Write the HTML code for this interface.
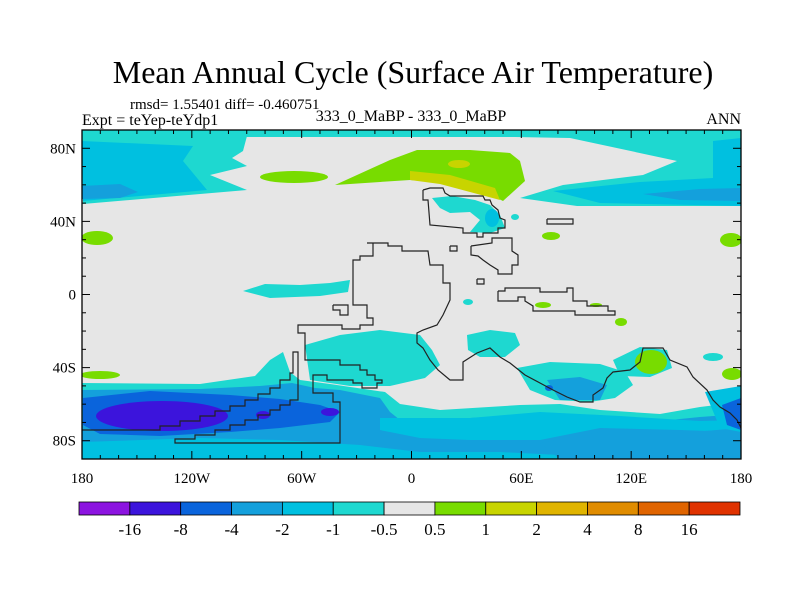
<!DOCTYPE html>
<html><head><meta charset="utf-8"><style>
html,body{margin:0;padding:0;background:#fff;}
svg{display:block;font-family:"Liberation Serif",serif;}
</style></head><body>
<svg id="svg" width="800" height="600" viewBox="0 0 800 600" xmlns="http://www.w3.org/2000/svg">
<text x="413" y="83" font-size="32" text-anchor="middle">Mean Annual Cycle (Surface Air Temperature)</text>
<text x="130" y="109" font-size="15">rmsd= 1.55401 diff= -0.460751</text>
<text x="82" y="125" font-size="16">Expt = teYep-teYdp1</text>
<text x="411" y="121" font-size="16" text-anchor="middle">333_0_MaBP - 333_0_MaBP</text>
<text x="741" y="124" font-size="16" text-anchor="end">ANN</text>
<defs><clipPath id="mapclip"><rect x="82" y="130" width="659" height="329"/></clipPath></defs>
<g id="map" clip-path="url(#mapclip)"></g>
<g id="coast" clip-path="url(#mapclip)"></g>
<g id="axes"></g>
<g id="cbar"></g>
</svg>
<script>
const levelLabels=["-16","-8","-4","-2","-1","-0.5","0.5","1","2","4","8","16"];
const levelColors=["#8c14e0","#3c14dc","#0a64dc","#14a0dc","#00c0e0","#1ed8d0","#e6e6e6","#78dc00","#c8d400","#e0b400","#e08c00","#e06400","#e03200"];
const latTicks=[80,40,0,-40,-80];
const latLabels=["80N","40N","0","40S","80S"];
const lonTicks=[-180,-120,-60,0,60,120,180];
const lonLabels=["180","120W","60W","0","60E","120E","180"];
const C={c6:"#8c14e0",c5:"#3c14dc",c4:"#0a64dc",c3:"#14a0dc",c2:"#00c0e0",c1:"#1ed8d0",g:"#e6e6e6",p1:"#78dc00",p2:"#c8d400"};
const NS="http://www.w3.org/2000/svg";
const X=lon=>82+(lon+180)*659/360, Y=lat=>130+(90-lat)*329/180;
function mk(parent,tag,attrs){const e=document.createElementNS(NS,tag);for(const k in attrs)e.setAttribute(k,attrs[k]);parent.appendChild(e);return e;}
const map=document.getElementById('map');
mk(map,'rect',{x:82,y:130,width:659,height:329,fill:'#e6e6e6'});
const regions=[
 ["c1","poly","82,130 741,130 741,137 82,137"],
 ["c1","poly","82,130 247,136 243,151 232,158 247,166 210,175 247,190 83,204"],
 ["c2","poly","82,141 193,146 183,161 207,190 83,201"],
 ["c3","poly","82,186 120,184 138,192 120,198 82,199"],
 ["c1","poly","410,130 741,130 741,206 577,206 520,198 563,185 643,175 677,161 570,138 410,135"],
 ["c2","poly","553,191 640,182 713,178 713,141 741,138 741,206 600,203"],
 ["c3","poly","643,194 700,189 741,188 741,201 680,200"],
 ["p1","ell","294,177,34,6"],
 ["p1","poly","335,185 390,160 417,150 470,150 510,153 520,161 525,181 503,201 493,196 470,185 410,180"],
 ["p2","poly","410,171 450,175 495,188 500,200 485,196 440,184 410,180"],
 ["p2","ell","459,164,11,4"],
 ["c1","poly","432,198 452,196 475,200 490,205 500,215 505,228 490,233 470,232 480,220 470,212 450,213 440,208"],
 ["c2","ell","492,218,7,9"],
 ["c1","ell","515,217,4,3"],
 ["p1","ell","97,238,16,7"],["p1","ell","731,240,11,7"],["p1","ell","551,236,9,4"],["p1","ell","621,322,6,4"],
 ["c1","poly","243,291 265,284 300,285 330,283 350,280 348,292 320,296 270,298"],
 // southern ocean band
 ["c1","poly","82,383 200,384 255,376 270,360 283,352 290,372 300,380 330,384 385,392 400,404 440,410 520,405 560,404 600,410 660,414 700,407 741,402 741,459 82,459"],
 ["c1","poly","305,345 340,335 380,330 420,335 432,350 440,365 425,378 390,386 350,386 310,380"],
 ["c1","poly","467,335 490,330 515,333 520,345 505,357 480,357 468,350"],
 ["c1","poly","517,368 550,362 600,364 625,372 633,385 615,398 590,402 555,400 530,390"],
 ["c1","poly","613,360 640,347 667,350 672,368 650,377 620,376"],
 ["c3","poly","82,390 200,389 260,386 292,383 315,388 340,390 380,398 390,412 400,420 470,418 540,414 600,415 650,422 700,417 741,414 741,459 82,459"],
 ["c2","poly","380,418 470,418 540,412 620,416 700,421 741,420 741,432 680,430 600,428 540,440 470,440 420,438 380,430"],
 ["c2","poly","82,442 200,438 280,440 360,445 420,452 500,452 560,455 600,452 700,450 741,446 741,459 82,459"],
 ["c3","poly","540,443 600,432 680,433 741,428 741,459 560,459"],
 ["c3","poly","547,380 580,377 607,385 600,400 560,400"],
 ["c4","ell","549,388,4,3"],
 ["c4","poly","83,398 150,391 230,395 280,399 320,405 340,412 330,422 280,428 230,432 160,436 100,434 83,425"],
 ["c5","ell","162,416,66,15"],["c5","ell","263,415,7,4"],["c5","ell","330,412,9,4"],
 ["c2","poly","705,392 741,386 741,432 720,428"],
 ["c4","poly","722,405 741,398 741,430 727,425"],
 ["p1","ell","651,362,16,12"],["p1","ell","732,374,10,6"],["c1","ell","713,357,10,4"],
 ["p1","ell","100,375,20,4"],
 ["c1","ell","468,302,5,3"],["p1","ell","543,305,8,3"],["p1","ell","596,305,6,2"]
];
regions.forEach(r=>{
 let e;
 if(r[1]=="poly") e=mk(map,'polygon',{points:r[2],fill:C[r[0]]});
 else {const a=r[2].split(',').map(Number); e=mk(map,'ellipse',{cx:a[0],cy:a[1],rx:a[2],ry:a[3],fill:C[r[0]]});}
 
 
});
const coast=document.getElementById('coast');
const lines=[
 "423,190 430,188 443,188 445,193 450,196 483,196 485,200 490,200 492,205 498,210 500,218 505,220 505,228 498,228 498,233 483,233 483,237 477,237 477,233 463,233 463,228 430,225 428,200 423,200 423,190",
 "547,219 573,219 573,224 547,224 547,219",
 "450,246 457,246 457,251 450,251 450,246",
 "477,279 484,279 484,284 477,284 477,279",
 "471,246 492,243 492,238 512,238 512,251 518,255 518,265 512,265 512,274 498,274 498,270 490,265 483,260 478,256 471,255 471,246",
 "498,291 505,291 505,288 540,288 540,292 567,292 567,288 573,288 573,301 587,301 587,306 608,306 608,311 615,311 615,315 575,315 575,311 540,311 533,311 533,306 525,301 525,297 518,297 518,301 498,301 498,291",
 "367,243 388,243 388,246 402,246 402,251 428,251 430,265 443,265 443,283 450,283 450,300 443,315 437,325 423,330 417,333 417,343 423,348 430,360 438,370 450,380 463,380 463,362 477,353 490,348 500,357 510,363 525,375 540,383 553,390 567,397 580,402 593,402 593,395 603,388 607,378 613,372 630,370 640,362 643,348 663,348 670,360 687,367 693,377 707,390 713,400 720,407 730,413 737,420 741,428",
 "373,243 373,256 360,256 360,260 353,260 353,305 367,305 367,318 373,318 373,325 360,325 360,329 342,329 342,325 298,325 298,333 305,333 305,360 340,360 340,365 360,365 360,370 367,370 367,375 375,375 375,380 382,380 382,383 377,383 377,388 362,388 362,383 353,383 353,380 327,380 327,375 313,375 313,393 333,393 333,402 340,402 340,443 175,443 175,439 195,439 195,435 215,435 215,430 230,430 230,425 245,425 245,420 258,420 258,415 270,415 270,410 280,410 280,405 290,405 290,400 298,400 298,352 293,352 293,373 290,373 290,380 280,380 280,388 270,388 270,394 258,394 258,400 245,400 245,406 230,406 230,411 215,411 215,416 200,416 200,421 180,421 180,426 160,426 160,430 82,430",
 "333,305 348,305 348,315 340,315 340,310 333,310 333,305"
];
lines.forEach(p=>{
 const e=mk(coast,'polyline',{points:p,fill:'none',stroke:'#222',"stroke-width":1.2});
 
 
});
const ax=document.getElementById('axes');
let fr=mk(ax,'rect',{x:82,y:130,width:659,height:329,fill:'none',stroke:'#000',"stroke-width":1.3});


for(let lon=-180;lon<=180;lon+=10){const big=lon%60==0,L=big?8:4;
 mk(ax,'line',{x1:X(lon),x2:X(lon),y1:130,y2:130+L,stroke:'#000'});
 mk(ax,'line',{x1:X(lon),x2:X(lon),y1:459,y2:459-L,stroke:'#000'});}
for(let lat=-90;lat<=90;lat+=10){const big=lat%40==0,L=big?8:4;
 mk(ax,'line',{x1:82,x2:82+L,y1:Y(lat),y2:Y(lat),stroke:'#000'});
 mk(ax,'line',{x1:741,x2:741-L,y1:Y(lat),y2:Y(lat),stroke:'#000'});}
latTicks.forEach((v,i)=>{const t=mk(ax,'text',{x:76,y:Y(v)+5,"font-size":15,"text-anchor":"end"});t.textContent=latLabels[i];
 
 });
lonTicks.forEach((v,i)=>{const t=mk(ax,'text',{x:X(v),y:483,"font-size":15,"text-anchor":"middle"});t.textContent=lonLabels[i];
 
 });
const cb=document.getElementById('cbar');const bx=79,bw=661/levelColors.length;
levelColors.forEach((c,i)=>{const r=mk(cb,'rect',{x:bx+i*bw,y:502,width:bw,height:13,fill:c,stroke:'#000',"stroke-width":0.8});
 
 });
levelLabels.forEach((l,i)=>{const t=mk(cb,'text',{x:bx+(i+1)*bw,y:535,"font-size":17,"text-anchor":"middle"});t.textContent=l;
 
 });
</script>
</body></html>
